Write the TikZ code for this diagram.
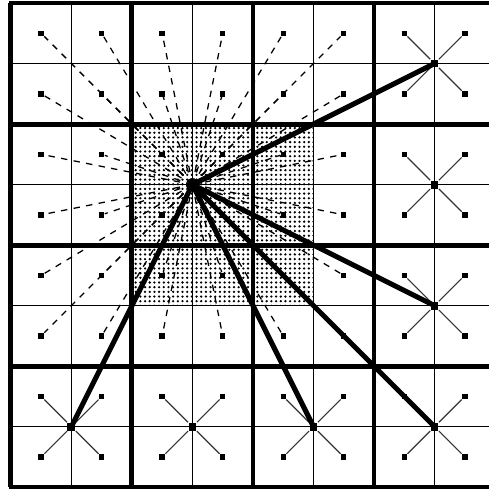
\documentclass[tikz,border=0pt]{standalone}
\usetikzlibrary{patterns.meta}
\tikzset{
  punto/.style={rectangle,fill=black,inner sep=0pt,minimum size=0.9mm},
  centro/.style={rectangle,fill=black,inner sep=0pt,minimum size=1.3mm},
  cercano/.style={line width=0.6pt,dash pattern=on 3pt off 3pt},
  lejano/.style={line width=2.4pt},
  brazo/.style={line width=0.55pt,black!80},
  rejilla/.style={line width=0.7pt},
  bloque/.style={line width=2.3pt},
}
\begin{document}
\begin{tikzpicture}
  % Malla 8x8 de celdas, bloques de 2x2; foco en el vertice (3,5)
  \useasboundingbox (-0.18,-0.02) rectangle (7.90,8.05);
  \clip (-0.18,-0.02) rectangle (7.90,8.05);
  \fill[pattern={Dots[radius=0.6pt,distance=2.2pt]}] (2,3) rectangle (5,6);
  \coordinate (f) at (3,5);
  % particulas de los bloques cercanos
  \foreach \i in {0,...,5}
    \foreach \j in {2,...,7}
      \node[punto] (p\i\j) at (\i+0.5,\j+0.5) {};
  \foreach \i in {0,...,5}
    \foreach \j in {2,...,7}
      \draw[cercano] (f) -- (p\i\j);
  % rejilla
  \draw[rejilla] (0,0) grid (8,8);
  \draw[bloque] (0,0) grid[step=2] (8,8);
  \draw[line width=1.6pt] (0,0) rectangle (8,8);
  % bloques lejanos: centro y sus cuatro particulas
  \foreach \bx/\by in {3/0,3/1,3/2,3/3,0/0,1/0,2/0} {
    \node[centro] (c\bx\by) at (2*\bx+1,2*\by+1) {};
    \foreach \a/\b in {0/0,1/0,0/1,1/1} {
      \node[punto] (q\bx\by\a\b) at (2*\bx+0.5+\a,2*\by+0.5+\b) {};
      \draw[brazo] (c\bx\by) -- (q\bx\by\a\b);
    }
  }
  \foreach \c in {c33,c31,c30,c20,c00}
    \draw[lejano] (f) -- (\c.center);
\end{tikzpicture}
\end{document}
